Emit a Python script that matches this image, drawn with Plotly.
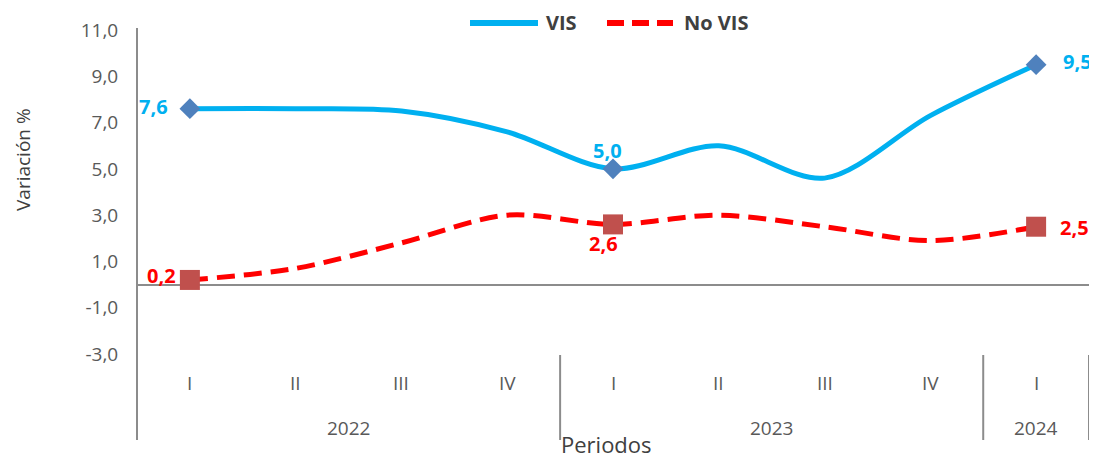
import plotly.graph_objects as go

# Periods (quarters) and their years
quarters = ["I", "II", "III", "IV", "I", "II", "III", "IV", "I"]
years = ["2022", "2023", "2024"]
year_span = [(0, 3), (4, 7), (8, 8)]

# Variación % by period
vis = [7.6, 7.6, 7.5, 6.6, 5.0, 6.0, 4.6, 7.3, 9.5]
no_vis = [0.2, 0.7, 1.8, 3.0, 2.6, 3.0, 2.5, 1.9, 2.5]

# only these points get a marker and a label
labelled = [0, 4, 8]

COLORS = {
    "vis": "#00B0F0",
    "vis_marker": "#4F81BD",
    "no_vis": "#FF0000",
    "no_vis_marker": "#C0504D",
    "axis": "#8C8C8C",
    "tick": "#595959",
    "title": "#404040",
}
FONT = "Open Sans"

# plot area in pixels (the page adds an 8px body margin)
PLOT_W, PLOT_H = 952, 324

x = list(range(len(quarters)))
lx = [x[i] for i in labelled]


def fmt(v):
    return f"{v:.1f}".replace(".", ",")


def py(px):
    """pixel row measured from the plot bottom -> paper y"""
    return px / PLOT_H


fig = go.Figure()

# lines
fig.add_trace(go.Scatter(
    x=x, y=vis, name="VIS", mode="lines",
    line=dict(color=COLORS["vis"], width=5, shape="spline", smoothing=0.9),
))
fig.add_trace(go.Scatter(
    x=x, y=no_vis, name="No VIS", mode="lines",
    line=dict(color=COLORS["no_vis"], width=5, shape="spline", smoothing=0.9, dash="18px,9px"),
))

# markers on the first, middle and last period
fig.add_trace(go.Scatter(
    x=lx, y=[vis[i] for i in labelled], mode="markers",
    marker=dict(symbol="diamond", size=16, color=COLORS["vis_marker"], opacity=1, line=dict(width=0)),
    cliponaxis=False,
))
fig.add_trace(go.Scatter(
    x=lx, y=[no_vis[i] for i in labelled], mode="markers",
    marker=dict(symbol="square", size=20, color=COLORS["no_vis_marker"], opacity=1, line=dict(width=0)),
    cliponaxis=False,
))

# data labels, placed like Excel does (left / above-below / right)
label_pos = [("right", -20, 2), ("center", -6, 18), ("left", 25, 3)]
for i, (anchor, dx, dy) in zip(labelled, label_pos):
    fig.add_annotation(x=i, y=vis[i], text=f"<b>{fmt(vis[i])}</b>", showarrow=False,
                       xanchor=anchor, yanchor="middle", xshift=dx, yshift=dy,
                       font=dict(family=FONT, size=20, color=COLORS["vis"]))
label_pos = [("right", -12, 4), ("center", -10, -19), ("left", 22, -1)]
for i, (anchor, dx, dy) in zip(labelled, label_pos):
    fig.add_annotation(x=i, y=no_vis[i], text=f"<b>{fmt(no_vis[i])}</b>", showarrow=False,
                       xanchor=anchor, yanchor="middle", xshift=dx, yshift=dy,
                       font=dict(family=FONT, size=20, color=COLORS["no_vis"]))

fig.update_layout(
    width=1089, height=452,
    margin=dict(l=129, r=8, t=22, b=106),
    paper_bgcolor="white", plot_bgcolor="white",
    showlegend=False,
    font=dict(family=FONT, color=COLORS["tick"]),
)
fig.update_xaxes(range=[-0.5, 8.5], showticklabels=False, showgrid=False,
                 zeroline=False, showline=False)
fig.update_yaxes(range=[-3, 11], tickvals=[-3, -1, 1, 3, 5, 7, 9, 11],
                 ticktext=[fmt(v) for v in [-3, -1, 1, 3, 5, 7, 9, 11]],
                 tickfont=dict(family=FONT, size=19, color=COLORS["tick"]),
                 ticks="outside", ticklen=14, tickcolor="rgba(0,0,0,0)",
                 showgrid=False, showline=False,
                 zeroline=True, zerolinecolor=COLORS["axis"], zerolinewidth=2)

# --- axis frame and category dividers (Excel-style multi-level axis) ---
bottom = py(-86)
line_style = dict(color=COLORS["axis"], width=2)
fig.add_shape(type="line", xref="paper", yref="paper", x0=0, x1=0, y0=bottom, y1=py(326), line=line_style)
for start, end in year_span:
    xe = (end + 1) / len(quarters)
    fig.add_shape(type="line", xref="paper", yref="paper", x0=xe, x1=xe, y0=bottom, y1=py(-1), line=line_style)

for i, q in enumerate(quarters):
    fig.add_annotation(x=i, y=py(-29), xref="x", yref="paper", text=q, showarrow=False,
                       xanchor="center", yanchor="middle",
                       font=dict(family=FONT, size=19, color=COLORS["tick"]))
for yr, (start, end) in zip(years, year_span):
    fig.add_annotation(x=(start + end) / 2, y=py(-74), xref="x", yref="paper", text=yr, showarrow=False,
                       xanchor="center", yanchor="middle",
                       font=dict(family=FONT, size=19, color=COLORS["tick"]))

fig.add_annotation(x=(606 - 137) / PLOT_W, y=py(-90), xref="paper", yref="paper", text="Periodos",
                   showarrow=False, xanchor="center", yanchor="middle", borderpad=0,
                   font=dict(family=FONT, size=22, color=COLORS["title"]))
fig.add_annotation(x=(23 - 137) / PLOT_W, y=py(194), xref="paper", yref="paper", text="Variación %",
                   textangle=-90, showarrow=False, xanchor="center", yanchor="middle",
                   font=dict(family=FONT, size=19, color=COLORS["title"]))

# --- legend drawn by hand so the line samples are as long as in the original ---
ly = py(354 - 23)
fig.add_shape(type="line", xref="paper", yref="paper", x0=(470 - 137) / PLOT_W, x1=(538 - 137) / PLOT_W,
              y0=ly, y1=ly, line=dict(color=COLORS["vis"], width=6))
fig.add_annotation(x=(544 - 137) / PLOT_W, y=ly, xref="paper", yref="paper", text="<b>VIS</b>",
                   xanchor="left", yanchor="middle", showarrow=False,
                   font=dict(family=FONT, size=20, color=COLORS["title"]))
fig.add_shape(type="line", xref="paper", yref="paper", x0=(607 - 137) / PLOT_W, x1=(673 - 137) / PLOT_W,
              y0=ly, y1=ly, line=dict(color=COLORS["no_vis"], width=6, dash="17px,8px"))
fig.add_annotation(x=(682 - 137) / PLOT_W, y=ly, xref="paper", yref="paper", text="<b>No VIS</b>",
                   xanchor="left", yanchor="middle", showarrow=False,
                   font=dict(family=FONT, size=20, color=COLORS["title"]))

fig.write_html("out.html")
